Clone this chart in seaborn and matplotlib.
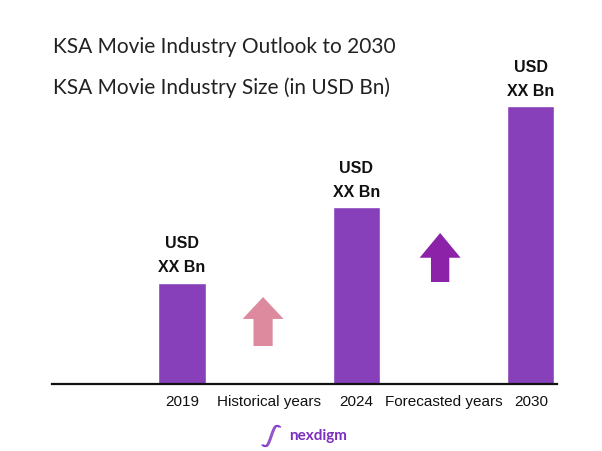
import matplotlib
matplotlib.use("Agg")
import matplotlib.pyplot as plt
import seaborn as sns
import pandas as pd
import numpy as np
from matplotlib.patches import Polygon

# ---- data ----
years = ["2019", "2024", "2030"]
values = [1.0, 1.75, 2.75]          # relative size (labels are placeholders)
bar_labels = ["USD\nXX Bn", "USD\nXX Bn", "USD\nXX Bn"]
slots = ["2019", "Historical years", "2024", "Forecasted years", "2030"]

title1 = "KSA Movie Industry Outlook to 2030"
title2 = "KSA Movie Industry Size (in USD Bn)"

BAR = "#8740BA"
PINK = "#DE8A9E"
PURPLE = "#8B22A8"

sns.set_theme(style="white")
plt.rcParams["font.family"] = ["Liberation Sans", "DejaVu Sans"]

fig = plt.figure(figsize=(6.02, 4.51), dpi=100)
ax = fig.add_axes([52/602, (451-384)/451, 505/602, 334/451])

df = pd.DataFrame({"year": years, "value": values})
sns.barplot(data=df, x="year", y="value", order=slots, color=BAR,
            saturation=1, width=0.54, ax=ax)

ax.set_xlim(-1.49, 4.30)
ax.set_ylim(0, 334/101)
for s in ["top", "right", "left"]:
    ax.spines[s].set_visible(False)
ax.spines["bottom"].set_color("#111111")
ax.spines["bottom"].set_linewidth(1.6)
ax.set_yticks([])
ax.set_xlabel("")
ax.set_ylabel("")
ax.tick_params(axis="x", length=0, pad=8, labelsize=11, labelcolor="#111111")

# value labels
for i, (yr, v, lab) in enumerate(zip(years, values, bar_labels)):
    pos = slots.index(yr)
    top, bottom = lab.split("\n")
    ax.annotate(bottom, (pos, v), xytext=(0, 15), textcoords="offset pixels",
                ha="center", va="center", fontsize=11.5, fontweight="bold", color="#111111")
    ax.annotate(top, (pos, v), xytext=(0, 39), textcoords="offset pixels",
                ha="center", va="center", fontsize=11.5, fontweight="bold", color="#111111")

def up_arrow(x, y0, y1, yh, shaft, head, color):
    pts = [(x - shaft/2, y0), (x + shaft/2, y0), (x + shaft/2, yh), (x + head/2, yh),
           (x, y1), (x - head/2, yh), (x - shaft/2, yh)]
    ax.add_patch(Polygon(pts, closed=True, color=color, lw=0))

up_arrow(slots.index("Historical years") - 0.07, 0.376, 0.861, 0.644, 0.22, 0.47, PINK)
up_arrow(slots.index("Forecasted years") - 0.04, 1.01, 1.495, 1.25, 0.21, 0.47, PURPLE)

# titles
fig.text(53/602, 1 - 47/451, title1, ha="left", va="center", fontsize=15,
         family=["Lato", "DejaVu Sans"], color="#222222")
fig.text(53/602, 1 - 88/451, title2, ha="left", va="center", fontsize=15,
         family=["Lato", "DejaVu Sans"], color="#222222")

# logo
t = np.linspace(0, 1, 60)
for off in (0.0, 1.5):
    lx = (262 + off) / 602 + t * 17 / 602
    ly = 1 - (445 - 18 * t + 5 * np.sin(t * 2 * np.pi)) / 451
    fig.add_artist(plt.Line2D(lx, ly, color="#7B2FBF", lw=1.1, alpha=0.85,
                              transform=fig.transFigure))
fig.text(289/602, 1 - 436/451, "nexdigm", ha="left", va="center", fontsize=11,
         fontweight="bold", color="#7B2FBF", family=["Lato", "DejaVu Sans"])

fig.savefig("out.png", dpi=100)
